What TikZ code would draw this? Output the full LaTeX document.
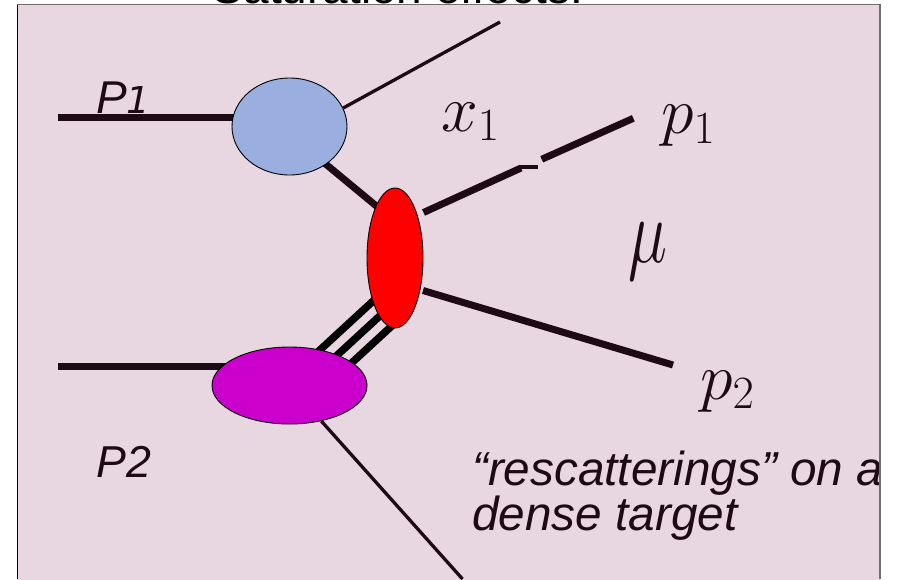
\RequirePackage{fix-cm}
\documentclass[tikz,border=0pt]{standalone}
\usepackage{fontspec}
\setmainfont{Liberation Sans}
\newfontfamily\dejavu{DejaVu Sans}
\usetikzlibrary{shapes.geometric}

\definecolor{slidebg}{RGB}{232,214,224}
\definecolor{blobblue}{RGB}{154,174,223}
\definecolor{blobred}{RGB}{255,0,0}
\definecolor{blobpurple}{RGB}{204,0,204}
\definecolor{ink}{RGB}{30,10,20}
\definecolor{framegray}{RGB}{110,110,110}

\pgfdeclarelayer{slide}
\pgfdeclarelayer{wires}
\pgfsetlayers{slide,wires,main}

\begin{document}
\begin{tikzpicture}[x=1pt,y=-1pt,
  blob/.style={ellipse,draw=black,line width=0.9pt,inner sep=0pt},
  heavy/.style={line width=7pt,draw=ink},
  light/.style={line width=3.3pt,draw=ink},
  gluon/.style={line width=7.5pt,draw=black},
  lbl/.style={inner sep=0pt,anchor=base west,text=ink},
  mathlbl/.style={inner sep=0pt,anchor=base west,text=ink,font=\fontsize{66}{66}\selectfont},
  slidetext/.style={inner sep=0pt,anchor=base west,text=ink,font=\fontsize{47.7}{45}\selectfont\itshape}]

\useasboundingbox (0,0) rectangle (904,579);
\clip (0,0) rectangle (904,579);

% slide background
\begin{pgfonlayer}{slide}
  \fill[white] (0,0) rectangle (904,579);
  \fill[slidebg] (17,4.5) rectangle (880,590);
\end{pgfonlayer}

% title, mostly above the slide edge
\node[inner sep=0pt,anchor=base east,text=black,font=\fontsize{46}{46}\selectfont] (title) at (583,3) {Saturation effects:};

% the three blobs
\node[blob,fill=blobblue,minimum width=115pt,minimum height=97pt] (b1) at (289.5,126.5) {};
\node[blob,fill=blobred,minimum width=56pt,minimum height=140pt] (b2) at (395,258) {};
\node[blob,fill=blobpurple,minimum width=155pt,minimum height=77pt] (b3) at (289.5,385.5) {};

% free ends of the legs
\coordinate (p1in) at (58,117);
\coordinate (p2in) at (58,366.5);
\coordinate (topout) at (500,22);
\coordinate (botout) at (462.5,579);
\coordinate (q1s) at (423.5,212.5);
\coordinate (q1m) at (521,168);
\coordinate (q1k) at (519,166.75);
\coordinate (q1n) at (538,166.75);
\coordinate (q1r) at (541.7,159.3);
\coordinate (q1e) at (633.3,118.3);
\coordinate (q2s) at (423,290.5);
\coordinate (q2e) at (673,365);
% ends of the triple link, hidden inside the blobs
\coordinate (ta1) at (314.4,355.1);
\coordinate (ta2) at (380.6,294.1);
\coordinate (tb1) at (324.9,366.5);
\coordinate (tb2) at (391.1,305.5);
\coordinate (tc1) at (335.4,377.9);
\coordinate (tc2) at (401.6,316.9);

\begin{pgfonlayer}{wires}
  \draw[heavy] (p1in) -- (p1in -| b1.center);
  \draw[heavy] (p2in) -- (p2in -| b3.center);
  \draw[light] (b1.19) -- (topout);
  \draw[heavy,shorten <=-6pt,shorten >=-6pt] (b1.-46) -- (b2.110.7);
  \draw[light] (b3) -- (botout);
  \draw[heavy] (q1s) -- (q1m);
  \draw[line width=3.5pt,draw=ink] (q1k) -- (q1n);
  \draw[heavy] (q1r) -- (q1e);
  \draw[heavy] (q2s) -- (q2e);
  \draw[gluon] (ta1) -- (ta2);
  \draw[gluon] (tb1) -- (tb2);
  \draw[gluon] (tc1) -- (tc2);
\end{pgfonlayer}

% kinematic labels
\node[mathlbl] (x1) at (441,131) {$x_1$};
\node[mathlbl] (k1) at (661,133.5) {$p_1$};
\node[mathlbl] (mu) at (628,262.5) {\scalebox{1}[1.39]{$\mu$}};
\node[mathlbl] (k2) at (700,399) {$p_2$};

% slide text
\begin{scope}
  \clip (17,4.5) rectangle (880,579);
  \node[lbl,font=\fontsize{46}{46}\selectfont\itshape] (P1) at (96,113)
    {P{\dejavu\fontsize{37}{37}\selectfont 1}};
  \node[lbl,font=\fontsize{44.7}{44.7}\selectfont\itshape] (P2) at (96,477) {P2};
  \node[slidetext] (res1) at (472,485) {“rescatterings” on a};
  \node[slidetext] (res2) at (472,530) {dense target};
\end{scope}

% slide frame
\draw[black,line width=1pt] (17,4.5) -- (17,579);
\draw[framegray,line width=1.2pt] (16.5,4.5) -- (880,4.5) -- (880,579);

\end{tikzpicture}
\end{document}
